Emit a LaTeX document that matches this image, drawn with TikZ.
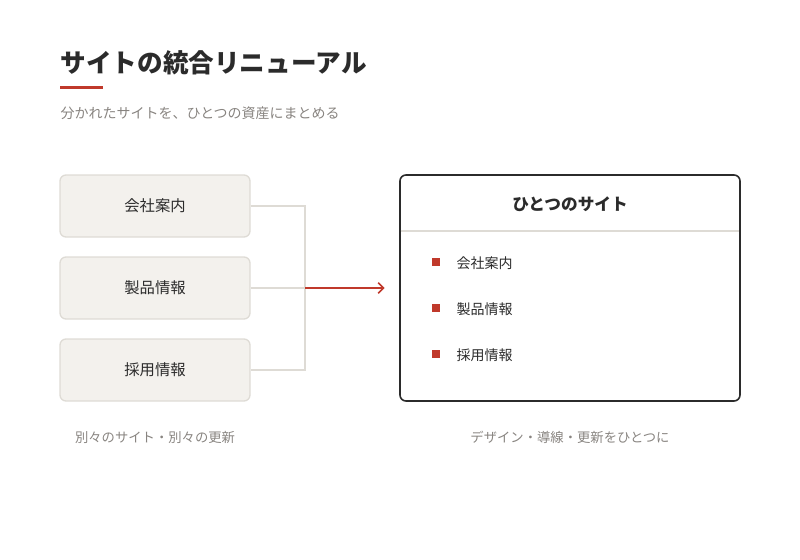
\documentclass[tikz,border=0pt]{standalone}
\usepackage{fontspec}
\usetikzlibrary{arrows.meta}
\newfontfamily\cjk{Noto Sans CJK JP}
\begin{document}
\begin{tikzpicture}[x=0.75pt,y=-0.75pt,
  lbox/.style={draw=line,fill=boxbg,rounded corners=4.5pt,line width=1pt,minimum width=142.5pt,minimum height=46.5pt,font=\cjk\fontsize{11.5}{12}\selectfont,text=ink},
  conn/.style={draw=line,line width=1pt},
  item/.style={anchor=west,font=\cjk\fontsize{10.5}{12}\selectfont,text=ink},
  bullet/.style={fill=accent,minimum size=5.5pt,inner sep=0pt},
  captxt/.style={font=\cjk\fontsize{10}{12}\selectfont,text=gray1}]
\definecolor{line}{HTML}{DEDBD5}
\definecolor{boxbg}{HTML}{F3F1ED}
\definecolor{ink}{HTML}{2B2B2B}
\definecolor{accent}{HTML}{C0392B}
\definecolor{gray1}{HTML}{888480}
\useasboundingbox (0,0) rectangle (800,560);
\node[anchor=west,font=\cjk\bfseries\fontsize{19.2}{22}\selectfont,text=ink] (title) at (56,63) {サイトの統合リニューアル};
\fill[accent] (60,86) rectangle (103,89);
\node[anchor=west,font=\cjk\fontsize{10.5}{12}\selectfont,text=gray1] (sub) at (56,113) {分かれたサイトを、ひとつの資産にまとめる};
\node[lbox] (a) at (155,206) {会社案内};
\node[lbox] (b) at (155,288) {製品情報};
\node[lbox] (c) at (155,370) {採用情報};
\coordinate (j1) at (305,206);
\coordinate (j2) at (305,288);
\coordinate (j3) at (305,370);
\draw[conn] (a.east) -- (j1) -- (j3) -- (c.east);
\draw[conn] (b.east) -- (j2);
\node[draw=ink,line width=1.2pt,rounded corners=4.5pt,minimum width=255pt,minimum height=169.5pt] (r) at (570,288) {};
\node[font=\cjk\bfseries\fontsize{12.5}{14}\selectfont,text=ink] (rh) at (570,204) {ひとつのサイト};
\draw[line,line width=1pt] ([xshift=1pt]r.west|-0,231) -- ([xshift=-1pt]r.east|-0,231);
\coordinate (arr) at (r.west);
\draw[accent,line width=1.1pt,-{Straight Barb[length=4pt]}] (j2) -- ([xshift=-11pt]arr);
\node[bullet] (s1) at (436,262) {}; \node[item] (t1) at (452,263) {会社案内};
\node[bullet] (s2) at (436,308) {}; \node[item] (t2) at (452,309) {製品情報};
\node[bullet] (s3) at (436,354) {}; \node[item] (t3) at (452,355) {採用情報};
\node[captxt] (c1) at (155,437) {別々のサイト・別々の更新};
\node[captxt] (c2) at (570,437) {デザイン・導線・更新をひとつに};
\end{tikzpicture}
\end{document}
